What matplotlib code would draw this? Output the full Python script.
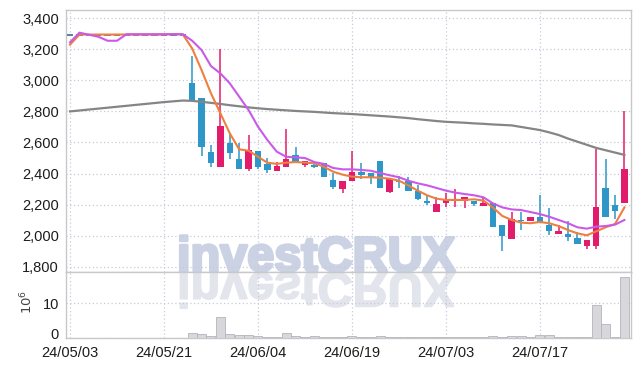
import numpy as np
import matplotlib
matplotlib.use("Agg")
import matplotlib.pyplot as plt
import matplotlib.patheffects as pe
from matplotlib.patches import PathPatch
from matplotlib.textpath import TextPath
from matplotlib.font_manager import FontProperties
from matplotlib.transforms import Affine2D, IdentityTransform, ScaledTranslation
from matplotlib.ticker import FuncFormatter

# ---- data (trading-day index 0..59) ----
tick_pos = [0, 10, 20, 30, 40, 50]
tick_labels = ["24/05/03", "24/05/21", "24/06/04", "24/06/19", "24/07/03", "24/07/17"]

opens = [3295] * 13 + [
    2985, 2886, 2539, 2440, 2599, 2496, 2427, 2543, 2462, 2415,
    2444, 2517, 2457, 2457, 2466, 2358, 2298, 2350, 2410, 2405,
    2479, 2280, 2355, 2350, 2286, 2225, 2152, 2208, 2226, 2226,
    2226, 2191, 2208, 2067, 1980, 2101, 2096, 2122, 2071, 2011,
    2011, 1985, 1934, 1934, 2307, 2200, 2208]
highs = [3295] * 13 + [
    3160, 2886, 2582, 3200, 2659, 2595, 2646, 2543, 2500, 2474,
    2689, 2569, 2479, 2474, 2466, 2405, 2350, 2543, 2466, 2405,
    2479, 2363, 2385, 2380, 2324, 2260, 2247, 2277, 2298, 2247,
    2226, 2243, 2208, 2067, 2152, 2152, 2122, 2260, 2178, 2071,
    2096, 2024, 1972, 2556, 2496, 2260, 2800]
lows = [3295] * 13 + [
    2870, 2513, 2440, 2440, 2492, 2427, 2418, 2430, 2405, 2415,
    2440, 2466, 2445, 2438, 2380, 2302, 2275, 2350, 2363, 2333,
    2307, 2277, 2305, 2290, 2230, 2195, 2152, 2184, 2184, 2178,
    2191, 2191, 2058, 1900, 1980, 2036, 2096, 2080, 2002, 2011,
    1964, 1946, 1916, 1912, 2118, 2105, 2208]
closes = [3295] * 13 + [
    2870, 2573, 2470, 2706, 2534, 2427, 2552, 2440, 2423, 2449,
    2492, 2466, 2479, 2445, 2380, 2315, 2350, 2410, 2390, 2380,
    2307, 2363, 2347, 2290, 2238, 2212, 2204, 2238, 2232, 2247,
    2204, 2212, 2058, 2000, 2105, 2093, 2122, 2080, 2032, 2032,
    1994, 1946, 1972, 2182, 2118, 2157, 2431]

ma_short = [
    3230, 3295, 3295, 3295, 3295, 3295, 3295, 3295, 3295, 3295,
    3295, 3298, 3296, 3205, 3066, 2916, 2788, 2659, 2556, 2547,
    2508, 2470, 2462, 2470, 2474, 2470, 2466, 2444, 2412, 2393,
    2380, 2376, 2376, 2373, 2367, 2354, 2324, 2290, 2260, 2238,
    2230, 2230, 2230, 2234, 2226, 2182, 2127, 2101, 2084, 2080,
    2088, 2080, 2062, 2036, 2015, 2002, 2028, 2054, 2075, 2182]
ma_mid = [
    3245, 3307, 3294, 3281, 3255, 3255, 3297, 3297, 3297, 3297,
    3297, 3297, 3297, 3255, 3195, 3092, 3045, 2981, 2895, 2809,
    2702, 2616, 2541, 2508, 2504, 2500, 2474, 2462, 2436, 2427,
    2427, 2423, 2418, 2403, 2389, 2376, 2354, 2337, 2324, 2307,
    2290, 2277, 2268, 2260, 2247, 2208, 2182, 2169, 2165, 2152,
    2139, 2122, 2101, 2080, 2054, 2045, 2058, 2062, 2071, 2101]
ma_long = [
    2800, 2806, 2812, 2818, 2824, 2830, 2836, 2842, 2848, 2854,
    2860, 2865, 2870, 2868, 2862, 2855, 2848, 2840, 2833, 2826,
    2820, 2815, 2811, 2807, 2803, 2800, 2797, 2793, 2789, 2786,
    2783, 2779, 2775, 2771, 2767, 2762, 2757, 2750, 2744, 2738,
    2733, 2730, 2727, 2723, 2720, 2716, 2713, 2710, 2700, 2690,
    2680, 2665, 2648, 2625, 2605, 2585, 2565, 2550, 2535, 2520]

volume = [0] * 13 + [
    1.2, 0.9, 0.3, 5.9, 0.9, 0.6, 0.6, 0.3, 0.2, 0.1,
    1.2, 0.4, 0.1, 0.3, 0.2, 0.1, 0.1, 0.3, 0.1, 0.1,
    0.3, 0.1, 0.1, 0.1, 0.1, 0.1, 0.1, 0.1, 0.1, 0.1,
    0.1, 0.1, 0.3, 0.1, 0.3, 0.3, 0.1, 0.6, 0.6, 0.1,
    0.1, 0.1, 0.1, 9.5, 3.9, 0.2, 17.6]

UP = "#e21c6a"
DOWN = "#2f96c8"
GRID = "#c6cadc"
SPINE = "#c8c8c8"
TXT = "#1c1c1c"

plt.rcParams["font.family"] = ["Liberation Sans", "DejaVu Sans"]

fig = plt.figure(figsize=(6.39, 3.66), dpi=100)
W, H = 639, 366
ax = fig.add_axes([66 / W, 1 - 272 / H, 565 / W, 262 / H])
ax2 = fig.add_axes([66 / W, 1 - 337.5 / H, 565 / W, 65.5 / H], sharex=ax)

idx = np.arange(len(closes))
o = np.array(opens, float)
c = np.array(closes, float)
hi = np.array(highs, float)
lo = np.array(lows, float)
up = c >= o
col = np.where(up, UP, DOWN)

# wicks
ax.vlines(idx, lo, hi, colors=col, linewidth=1.1, zorder=2)
# bodies
ax.bar(idx, np.abs(c - o), bottom=np.minimum(o, c), width=0.68,
       color=col, linewidth=0, zorder=3)
flat = o == c
ax.hlines(c[flat], idx[flat] - 0.34, idx[flat] + 0.34, colors="#3b6f8e",
          linewidth=1.2, zorder=3)

# moving averages
ax.plot(idx, ma_long, color="#858585", linewidth=1.6, zorder=4)
ax.plot(idx, ma_short, color="#ee7f3e", linewidth=1.5, zorder=5)
ax.plot(idx, ma_mid, color="#c95ae8", linewidth=1.5, zorder=6)

ax.set_xlim(-0.43, 59.7)
ax.set_ylim(1766, 3453)
ax.set_yticks(np.arange(1800, 3401, 200))
ax.yaxis.set_major_formatter(FuncFormatter(lambda v, p: f"{int(v):,}"))
ax.set_xticks(tick_pos)
ax.tick_params(axis="x", labelbottom=False, length=0)
ax.tick_params(axis="y", length=0, pad=5, labelsize=10.5, labelcolor=TXT)
ax.set_axisbelow(True)
ax.grid(True, color=GRID, linestyle=(0, (1, 2)), linewidth=0.9)

# watermark
WM = "#cbd2e3"
ax.text(177 / W, 1 - 271 / H, "investCRUX", transform=fig.transFigure,
        fontsize=35, fontweight="bold", family="Liberation Sans",
        color=WM, ha="left", va="baseline", zorder=0.2,
        path_effects=[pe.withStroke(linewidth=2.2, foreground=WM)])

# volume
ax2.bar(idx, volume, width=0.96, color="#d7d7dc", edgecolor="#b4b4bd",
        linewidth=0.6, zorder=3)
ax2.set_ylim(0, 19.2)
ax2.set_yticks([0, 10])
ax2.set_xticks(tick_pos)
ax2.set_xticklabels(tick_labels)
ax2.tick_params(axis="x", length=0, pad=6, labelsize=10.5, labelcolor=TXT)
ax2.tick_params(axis="y", length=0, pad=5, labelsize=10.5, labelcolor=TXT)
ax2.set_axisbelow(True)
ax2.grid(True, color=GRID, linestyle=(0, (1, 2)), linewidth=0.9)
ax2.set_ylabel(r"$10^6$", fontsize=9.5, color="#444444")
ax2.yaxis.set_label_coords(-0.055, 0.54)

# nudge the "0" label up a touch so it clears the first date
zero_lbl = ax2.get_yticklabels()[0]
zero_lbl.set_transform(zero_lbl.get_transform()
                       + ScaledTranslation(0, 3 / 72, fig.dpi_scale_trans))

# mirrored watermark reflection
fp = FontProperties(family="Liberation Sans", weight="bold")
tp = TextPath((0, 0), "investCRUX", size=35 * 100 / 72, prop=fp)
tr = Affine2D().scale(1, -1).translate(177, H - 273)
refl = PathPatch(tr.transform_path(tp), facecolor="#e3e5ed", edgecolor="#e3e5ed",
                 linewidth=1.2, transform=IdentityTransform(), zorder=0.2)
ax2.add_patch(refl)

for a in (ax, ax2):
    for s in a.spines.values():
        s.set_color(SPINE)
        s.set_linewidth(1.0)

fig.savefig("out.png", dpi=100)
